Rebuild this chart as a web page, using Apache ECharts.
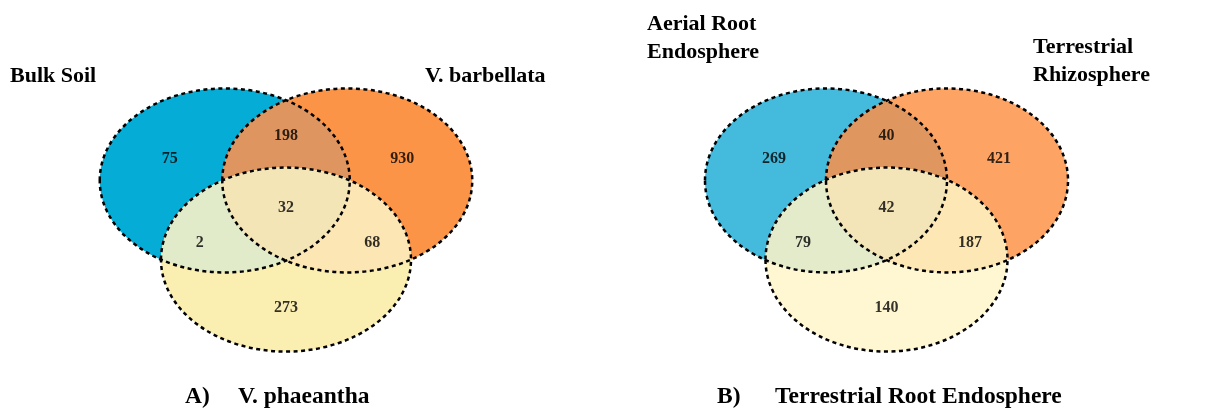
<!DOCTYPE html>
<html>
<head>
<meta charset="utf-8">
<script src="https://cdn.jsdelivr.net/npm/echarts@6/dist/echarts.min.js"></script>
<style>
  html, body { margin: 0; background: #fff; }
  #venn { width: 1206px; height: 410px; }
</style>
</head>
<body>
<div id="venn"></div>
<script>
// set labels of the two diagrams
var setNamesA = ["Bulk Soil", "V. barbellata", "V. phaeantha"];
var setNamesB = ["Aerial Root\nEndosphere", "Terrestrial\nRhizosphere", "Terrestrial Root Endosphere"];
var panelTags = ["A)", "B)"];

// regions: only 1, only 2, only 3, 1&2, 1&3, 2&3, 1&2&3
var regions = ["1", "2", "3", "12", "13", "23", "123"];
var countsA = [75, 930, 273, 198, 2, 68, 32];
var countsB = [269, 421, 140, 40, 79, 187, 42];

// ellipse centres in unit space (radius 1 on each axis)
var centresA = [[-0.49, 0.43], [0.49, 0.43], [0, -0.43]];
var centresB = [[-0.5, 0.43], [0.5, 0.43], [0, -0.43]];
// where each region's count sits, same order as regions
var anchors = [[-0.93, 0.67], [0.93, 0.67], [0, -0.95], [0, 0.92], [-0.69, -0.25], [0.69, -0.25], [0, 0.13]];

var coloursA = { a: "#05add6", b: "#fc9447", c: "#faeeb1", ab: "#de955f", ac: "#e2ebc9", bc: "#fbe6b4", abc: "#f4e5b7" };
var coloursB = { a: "#44bbdd", b: "#fda465", c: "#fff6d2", ab: "#e0975f", ac: "#e3ebcb", bc: "#fde7b5", abc: "#f4e5b8" };

var serif = "'Liberation Serif', 'DejaVu Serif', serif";

function vennSeries(idx, centres, col) {
  return {
    type: "custom",
    xAxisIndex: idx,
    yAxisIndex: idx,
    silent: true,
    data: [[0, 0]],
    renderItem: function (params, api) {
      var size = api.size([1, 1]);
      var e = centres.map(function (c) {
        var p = api.coord(c);
        return { cx: p[0], cy: p[1], rx: size[0], ry: size[1] };
      });
      var dash = { fill: "none", stroke: "#000", lineWidth: 2.5, lineDash: [4, 3.5] };
      var clip = function (s) { return { type: "ellipse", shape: s }; };
      return {
        type: "group",
        children: [
          { type: "ellipse", shape: e[0], style: { fill: col.a } },
          { type: "ellipse", shape: e[1], style: { fill: col.b } },
          { type: "ellipse", shape: e[0], clipPath: clip(e[1]), style: { fill: col.ab } },
          { type: "ellipse", shape: e[2], style: { fill: col.c } },
          { type: "ellipse", shape: e[2], clipPath: clip(e[0]), style: { fill: col.ac } },
          { type: "ellipse", shape: e[2], clipPath: clip(e[1]), style: { fill: col.bc } },
          {
            type: "group",
            clipPath: clip(e[0]),
            children: [
              { type: "ellipse", shape: e[2], clipPath: clip(e[1]), style: { fill: col.abc } }
            ]
          },
          { type: "ellipse", shape: e[0], style: dash },
          { type: "ellipse", shape: e[1], style: dash },
          { type: "ellipse", shape: e[2], style: dash }
        ]
      };
    }
  };
}

function countSeries(idx, counts) {
  return {
    type: "scatter",
    xAxisIndex: idx,
    yAxisIndex: idx,
    symbolSize: 0,
    silent: true,
    z: 5,
    data: anchors.map(function (a, i) { return [a[0], a[1], counts[i]]; }),
    label: {
      show: true,
      position: "inside",
      formatter: function (p) { return p.value[2]; },
      fontFamily: serif,
      fontWeight: "bold",
      fontSize: 16,
      color: "#000"
    }
  };
}

function titleItem(text, left, top, size, lh) {
  return {
    text: text,
    left: left,
    top: top,
    padding: 0,
    textStyle: { fontFamily: serif, fontWeight: "bold", fontSize: size, lineHeight: lh || size, color: "#000" }
  };
}

var chart = echarts.init(document.getElementById("venn"));
chart.setOption({
  backgroundColor: "#fff",
  animation: false,
  title: [
    titleItem(setNamesA[0], 10, 65, 22),
    titleItem(setNamesA[1], 425, 65, 22),
    titleItem(panelTags[0], 185, 385, 23.5),
    titleItem(setNamesA[2], 238, 385, 23.5),
    titleItem(setNamesB[0], 647, 10, 22, 28),
    titleItem(setNamesB[1], 1033, 33, 22, 28),
    titleItem(panelTags[1], 717, 385, 23.5),
    titleItem(setNamesB[2], 775, 385, 23.5)
  ],
  grid: [
    { left: 98.5, top: 82, width: 375, height: 276 },
    { left: 705, top: 82, width: 363, height: 276 }
  ],
  xAxis: [
    { type: "value", gridIndex: 0, min: -1.5, max: 1.5, show: false },
    { type: "value", gridIndex: 1, min: -1.5, max: 1.5, show: false }
  ],
  yAxis: [
    { type: "value", gridIndex: 0, min: -1.5, max: 1.5, show: false },
    { type: "value", gridIndex: 1, min: -1.5, max: 1.5, show: false }
  ],
  series: [
    vennSeries(0, centresA, coloursA),
    vennSeries(1, centresB, coloursB),
    countSeries(0, countsA),
    countSeries(1, countsB)
  ]
});
</script>
</body>
</html>
